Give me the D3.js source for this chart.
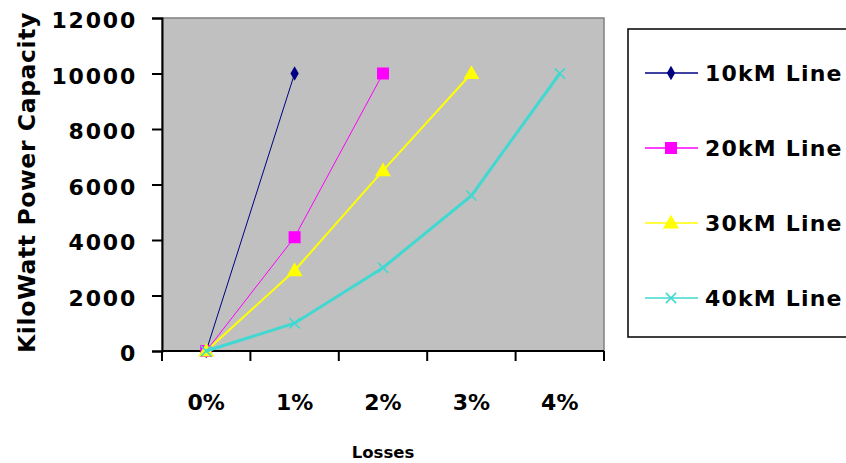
<!DOCTYPE html>
<html>
<head>
<meta charset="utf-8">
<script src="https://d3js.org/d3.v7.min.js"></script>
<style>
  body { margin: 0; background: #fff; }
  text { font-family: "DejaVu Sans", Verdana, sans-serif; font-weight: bold; fill: #000; }
</style>
</head>
<body>
<div id="chart"></div>
<script>
// chart data
var categories = ["0%", "1%", "2%", "3%", "4%"];
var yTicks = [0, 2000, 4000, 6000, 8000, 10000, 12000];
var seriesNames = ["10kM Line", "20kM Line", "30kM Line", "40kM Line"];
var line10 = [0, 10000];
var line20 = [0, 4100, 10000];
var line30 = [0, 2900, 6500, 10000];
var line40 = [0, 1000, 3000, 5600, 10000];

var seriesColors = ["#000080", "#ff00ff", "#ffff00", "#40d8d0"];
var seriesWidths = [1, 1, 2, 3];
var seriesMarkers = ["diamond", "square", "triangle", "cross"];
var allSeries = [line10, line20, line30, line40];

var W = 846, H = 463;
var plot = { left: 162, top: 18, right: 604, bottom: 351 };

var svg = d3.select("#chart").append("svg")
  .attr("width", W).attr("height", H);

var x = d3.scaleBand().domain(categories).range([plot.left, plot.right]);
var y = d3.scaleLinear().domain([0, 12000]).range([plot.bottom, plot.top]);

// gray plot area
svg.append("rect")
  .attr("x", plot.left).attr("y", plot.top)
  .attr("width", plot.right - plot.left).attr("height", plot.bottom - plot.top)
  .style("fill", "#c0c0c0")
  .style("stroke", "#808080")
  .style("stroke-width", 1.5);

// y axis
var yAxis = svg.append("g")
  .attr("transform", "translate(" + plot.left + ",0)")
  .call(d3.axisLeft(y).tickValues(yTicks).tickSize(10).tickPadding(15).tickFormat(d3.format("d")));
yAxis.select(".domain").attr("stroke", "#000").attr("stroke-width", 2);
yAxis.selectAll(".tick line").attr("stroke", "#000").attr("stroke-width", 2);
yAxis.selectAll("text").style("font-size", "22px").style("letter-spacing", "1.8px").attr("dy", "0.45em");

// x axis, ticks between categories
var xAxis = svg.append("g")
  .attr("transform", "translate(0," + plot.bottom + ")");
xAxis.append("line")
  .attr("x1", plot.left).attr("x2", plot.right)
  .attr("stroke", "#000").attr("stroke-width", 2);
var bounds = categories.map(function (c) { return x(c); }).concat([x.range()[1]]);
xAxis.selectAll(".xt").data(bounds).enter().append("line")
  .attr("x1", function (d) { return d; }).attr("x2", function (d) { return d; })
  .attr("y1", 0).attr("y2", 10)
  .attr("stroke", "#000").attr("stroke-width", 2);
xAxis.selectAll(".xl").data(categories).enter().append("text")
  .attr("x", function (d) { return x(d) + x.bandwidth() / 2; })
  .attr("y", 59)
  .attr("text-anchor", "middle")
  .style("font-size", "22px")
  .text(function (d) { return d; });

// axis titles
svg.append("text")
  .attr("x", (plot.left + plot.right) / 2).attr("y", 458)
  .attr("text-anchor", "middle")
  .style("font-size", "16.5px")
  .text("Losses");

svg.append("text")
  .attr("transform", "translate(35," + ((plot.top + plot.bottom) / 2 - 2) + ") rotate(-90)")
  .attr("text-anchor", "middle")
  .style("font-size", "23.5px")
  .style("letter-spacing", "0.6px")
  .text("KiloWatt Power Capacity");

function cx(i) { return x(categories[i]) + x.bandwidth() / 2; }

function drawMarker(g, kind, color, px, py) {
  if (kind === "diamond") {
    g.append("path").attr("d", d3.symbol(d3.symbolDiamond, 60)())
      .attr("transform", "translate(" + px + "," + py + ")")
      .style("fill", color);
  } else if (kind === "square") {
    g.append("rect").attr("x", px - 6).attr("y", py - 6).attr("width", 12).attr("height", 12)
      .style("fill", color);
  } else if (kind === "triangle") {
    g.append("path").attr("d", d3.symbol(d3.symbolTriangle, 110)())
      .attr("transform", "translate(" + px + "," + (py + 1) + ")")
      .style("fill", color);
  } else {
    g.append("path").attr("d", d3.symbol(d3.symbolX, 70)())
      .attr("transform", "translate(" + px + "," + py + ")")
      .style("fill", "none").style("stroke", color).style("stroke-width", 1.5);
  }
}

// series lines and markers
var line = d3.line()
  .x(function (d, i) { return cx(i); })
  .y(function (d) { return y(d); });

allSeries.forEach(function (vals, s) {
  var g = svg.append("g");
  g.append("path").datum(vals)
    .attr("d", line)
    .style("fill", "none")
    .style("stroke", seriesColors[s])
    .style("stroke-width", seriesWidths[s]);
  vals.forEach(function (v, i) {
    drawMarker(g, seriesMarkers[s], seriesColors[s], cx(i), y(v));
  });
});

// legend
var legend = svg.append("g");
legend.append("rect")
  .attr("x", 628).attr("y", 29).attr("width", 230).attr("height", 308)
  .style("fill", "#fff").style("stroke", "#000").style("stroke-width", 1.5);
seriesNames.forEach(function (name, s) {
  var ly = 73 + s * 75;
  legend.append("line")
    .attr("x1", 645).attr("x2", 698).attr("y1", ly).attr("y2", ly)
    .style("stroke", seriesColors[s]).style("stroke-width", 1.5);
  drawMarker(legend, seriesMarkers[s], seriesColors[s], 671, ly);
  legend.append("text")
    .attr("x", 705).attr("y", ly)
    .attr("dy", "0.36em")
    .style("font-size", "22px")
    .style("letter-spacing", "1.2px")
    .text(name);
});
</script>
</body>
</html>
